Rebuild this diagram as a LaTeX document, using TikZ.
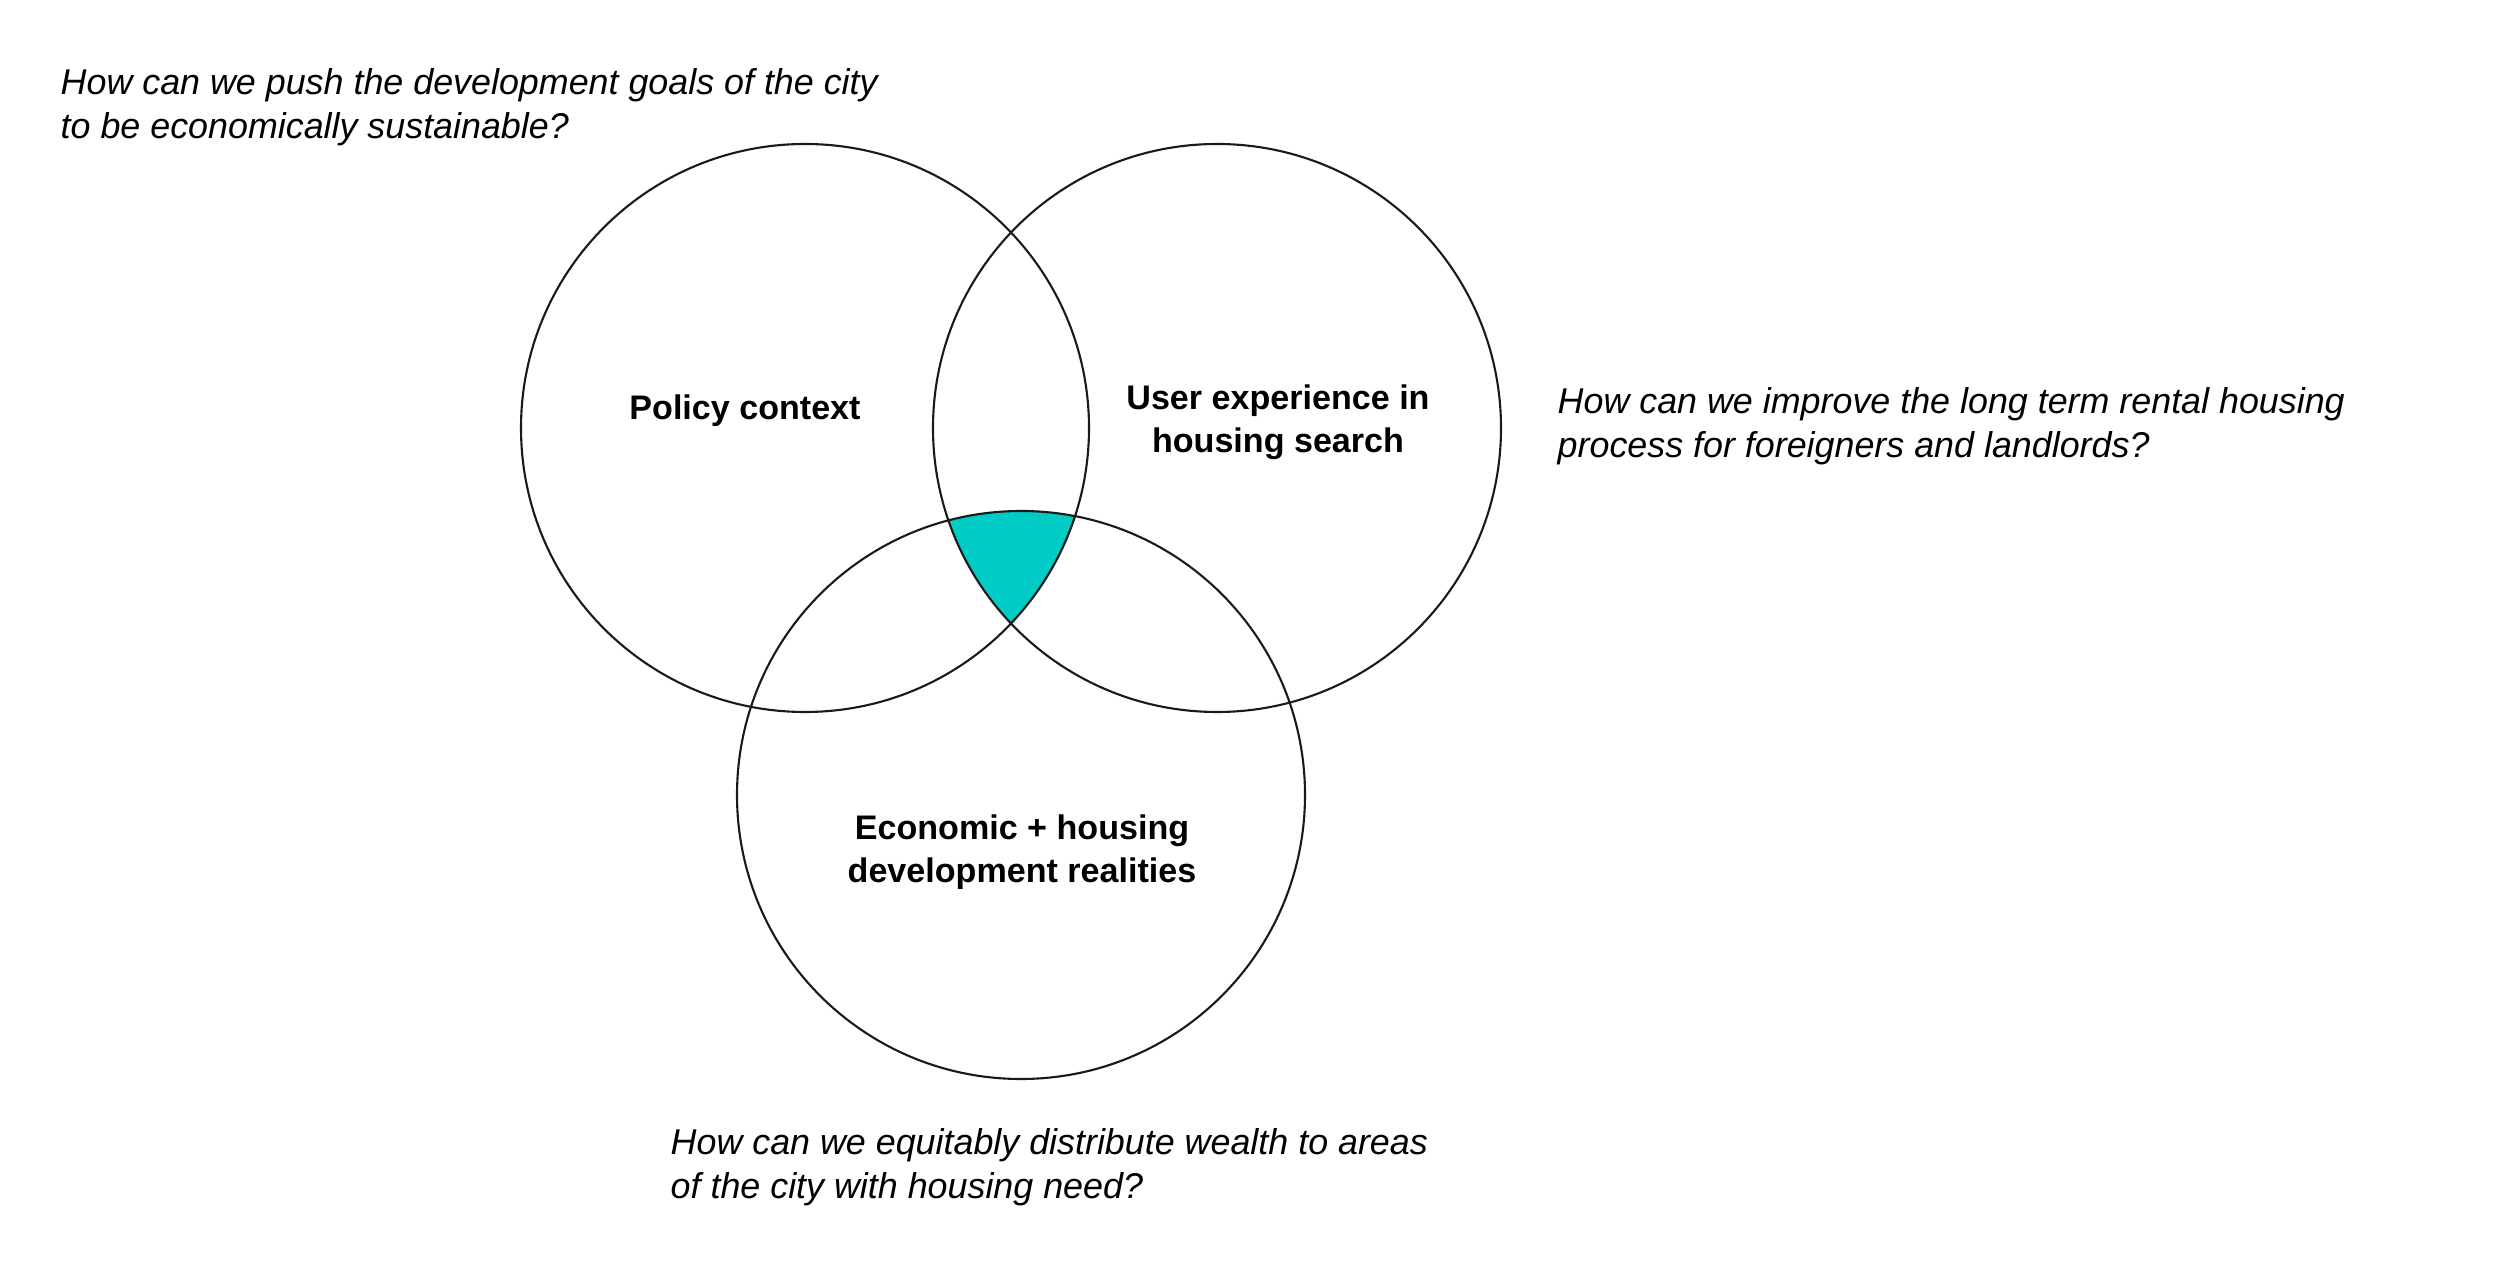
\documentclass[tikz,border=0pt]{standalone}
\usepackage{fontspec}
\setmainfont{Liberation Sans}
\usepackage{xcolor}
\usepackage{tikz}
\definecolor{overlap}{HTML}{00CBC5}
\definecolor{ink}{HTML}{1A1A1A}
\newcommand{\vennradius}{2.84}

\begin{document}
\begin{tikzpicture}[
    setcircle/.style={draw=ink, line width=0.6pt},
    question/.style={
      anchor=north west,
      inner sep=0pt,
      align=left,
      font=\fontsize{10.2pt}{12.6pt}\selectfont\itshape
    },
    setlabel/.style={
      inner sep=0pt,
      align=center,
      font=\fontsize{9.7pt}{12.4pt}\selectfont\bfseries
    }
  ]
    \useasboundingbox (0,0) rectangle (25,12.7);

    \coordinate (policyc) at (8.05,8.42);
    \coordinate (userc) at (12.17,8.42);
    \coordinate (econc) at (10.21,4.75);

    % common overlap of all three sets
    \begin{scope}
      \clip (policyc) circle (\vennradius);
      \clip (userc) circle (\vennradius);
      \fill[overlap] (econc) circle (\vennradius);
    \end{scope}

    \draw[setcircle] (policyc) circle (\vennradius);
    \draw[setcircle] (userc) circle (\vennradius);
    \draw[setcircle] (econc) circle (\vennradius);

    \node[setlabel, anchor=base] (policy) at (7.45,8.50) {Policy context};
    \node[setlabel, anchor=north] (user) at (12.78,8.86)
      {User experience in\\housing search};
    \node[setlabel, anchor=north] (econ) at (10.22,4.56)
      {Economic + housing\\development realities};

    \node[question] (goalq) at (0.60,12.02)
      {How can we push the development goals of the city\\to be economically sustainable?};
    \node[question] (rentq) at (15.57,8.83)
      {How can we improve the long term rental housing\\process for foreigners and landlords?};
    \node[question] (wealthq) at (6.70,1.42)
      {How can we equitably distribute wealth to areas\\of the city with housing need?};
  \end{tikzpicture}
\end{document}
